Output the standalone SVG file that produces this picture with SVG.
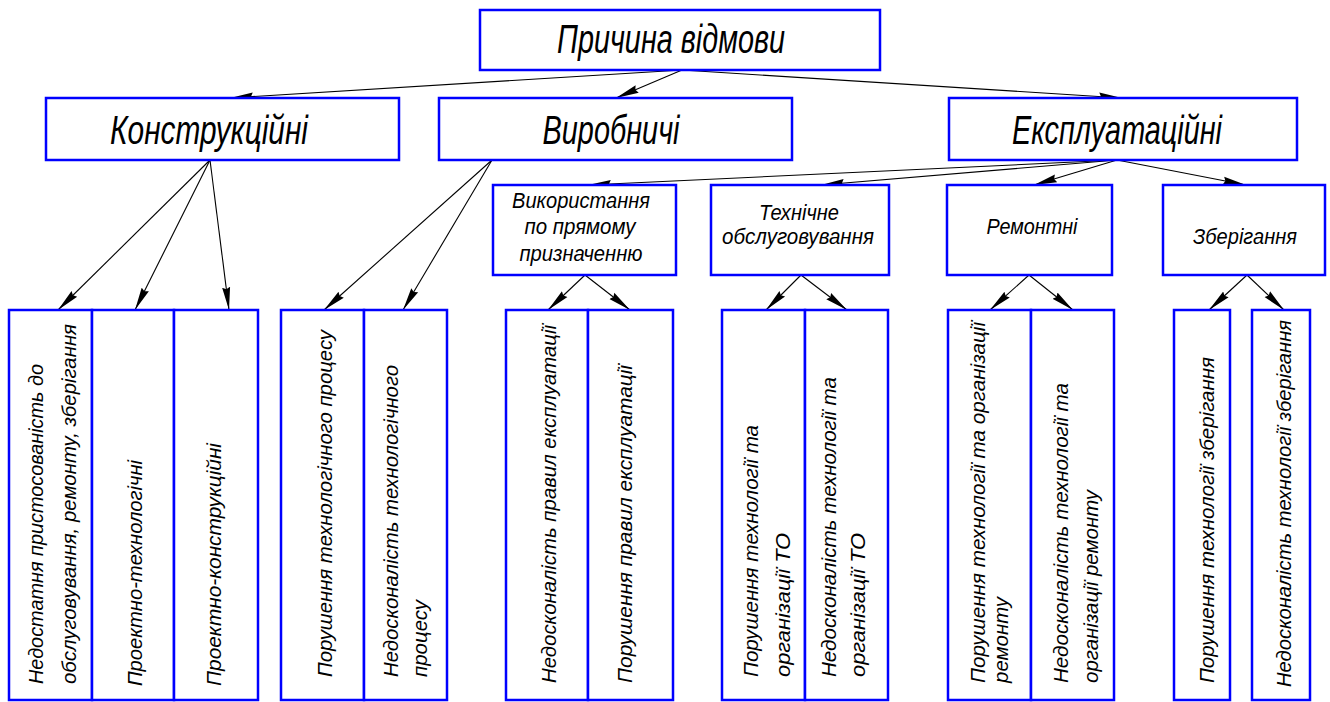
<svg xmlns="http://www.w3.org/2000/svg" width="1330" height="702" viewBox="0 0 1330 702">
<style>
.box{fill:#fff;stroke:#0000ff;stroke-width:2.5}
.t{font-family:"Liberation Sans","DejaVu Sans",sans-serif;font-style:italic;fill:#000}
.h1{font-size:40px;text-anchor:middle}
.h2{font-size:22px;text-anchor:middle}
.v{font-size:21px;text-anchor:start}
.c{stroke:#000;stroke-width:1.1;fill:none;marker-end:url(#ah)}
</style>
<defs>
<marker id="ah" markerUnits="userSpaceOnUse" markerWidth="24" markerHeight="10" refX="23" refY="5" orient="auto">
<path d="M0,1 L23,5 L0,9 L2,5 z" fill="#000"/>
</marker>
</defs>
<rect width="1330" height="702" fill="#fff"/>
<g id="connectors">
<line class="c" x1="682" y1="70" x2="230" y2="98"/>
<line class="c" x1="682" y1="70" x2="616" y2="98"/>
<line class="c" x1="682" y1="70" x2="1122" y2="98"/>
<line class="c" x1="1117" y1="160" x2="588" y2="185"/>
<line class="c" x1="1117" y1="160" x2="821" y2="185"/>
<line class="c" x1="1117" y1="160" x2="1034" y2="185"/>
<line class="c" x1="1117" y1="160" x2="1246" y2="185"/>
<line class="c" x1="210" y1="160" x2="58" y2="310"/>
<line class="c" x1="210" y1="160" x2="135" y2="310"/>
<line class="c" x1="210" y1="160" x2="229" y2="310"/>
<line class="c" x1="492" y1="160" x2="324" y2="310"/>
<line class="c" x1="492" y1="160" x2="403" y2="310"/>
<line class="c" x1="585" y1="275" x2="548" y2="310"/>
<line class="c" x1="585" y1="275" x2="630" y2="310"/>
<line class="c" x1="801" y1="275" x2="766" y2="310"/>
<line class="c" x1="801" y1="275" x2="847" y2="310"/>
<line class="c" x1="1029" y1="275" x2="990" y2="310"/>
<line class="c" x1="1029" y1="275" x2="1073" y2="310"/>
<line class="c" x1="1247" y1="275" x2="1209" y2="310"/>
<line class="c" x1="1247" y1="275" x2="1284" y2="310"/>
</g>
<g id="root"><rect class="box" x="480" y="10" width="400" height="60"/>
<text class="t h1" x="671" y="53" textLength="228" lengthAdjust="spacingAndGlyphs">Причина відмови</text></g>
<g id="konstr"><rect class="box" x="46" y="98" width="353" height="62"/>
<text class="t h1" x="209" y="144" textLength="198" lengthAdjust="spacingAndGlyphs">Конструкційні</text></g>
<g id="vyrob"><rect class="box" x="439" y="98" width="353" height="62"/>
<text class="t h1" x="611" y="144" textLength="137" lengthAdjust="spacingAndGlyphs">Виробничі</text></g>
<g id="ekspl"><rect class="box" x="949" y="98" width="348" height="62"/>
<text class="t h1" x="1117" y="144" textLength="210" lengthAdjust="spacingAndGlyphs">Експлуатаційні</text></g>
<g id="vykor"><rect class="box" x="493" y="185" width="183" height="90"/>
<text class="t h2" x="581" y="208" textLength="138" lengthAdjust="spacingAndGlyphs">Використання</text>
<text class="t h2" x="580" y="234" textLength="111" lengthAdjust="spacingAndGlyphs">по прямому</text>
<text class="t h2" x="581" y="261" textLength="123" lengthAdjust="spacingAndGlyphs">призначенню</text></g>
<g id="tekhn"><rect class="box" x="711" y="185" width="178" height="90"/>
<text class="t h2" x="799" y="220" textLength="80" lengthAdjust="spacingAndGlyphs">Технічне</text>
<text class="t h2" x="798" y="244" textLength="152" lengthAdjust="spacingAndGlyphs">обслуговування</text></g>
<g id="remont"><rect class="box" x="947" y="185" width="165" height="90"/>
<text class="t h2" x="1032" y="234" textLength="91" lengthAdjust="spacingAndGlyphs">Ремонтні</text></g>
<g id="zberig"><rect class="box" x="1163" y="185" width="162" height="90"/>
<text class="t h2" x="1245" y="244" textLength="104" lengthAdjust="spacingAndGlyphs">Зберігання</text></g>

<g id="a1"><rect class="box" x="9" y="310" width="83" height="390"/>
<text class="t v" transform="translate(43,684) rotate(-90)" textLength="320" lengthAdjust="spacingAndGlyphs">Недостатня пристосованість до</text>
<text class="t v" transform="translate(76,684) rotate(-90)" textLength="360" lengthAdjust="spacingAndGlyphs">обслуговування, ремонту, зберігання</text></g>
<g id="a2"><rect class="box" x="92" y="310" width="82" height="390"/>
<text class="t v" transform="translate(142,686) rotate(-90)" textLength="226" lengthAdjust="spacingAndGlyphs">Проектно-технологічні</text></g>
<g id="a3"><rect class="box" x="174" y="310" width="84" height="390"/>
<text class="t v" transform="translate(221,686) rotate(-90)" textLength="243" lengthAdjust="spacingAndGlyphs">Проектно-конструкційні</text></g>
<g id="b1"><rect class="box" x="281" y="310" width="83" height="390"/>
<text class="t v" transform="translate(332,677) rotate(-90)" textLength="347" lengthAdjust="spacingAndGlyphs">Порушення технологічного процесу</text></g>
<g id="b2"><rect class="box" x="364" y="310" width="83" height="390"/>
<text class="t v" transform="translate(398,677) rotate(-90)" textLength="312" lengthAdjust="spacingAndGlyphs">Недосконалість технологічного</text>
<text class="t v" transform="translate(427,677) rotate(-90)" textLength="77" lengthAdjust="spacingAndGlyphs">процесу</text></g>
<g id="c1"><rect class="box" x="506" y="310" width="82" height="390"/>
<text class="t v" transform="translate(556,683) rotate(-90)" textLength="358" lengthAdjust="spacingAndGlyphs">Недосконалість правил експлуатації</text></g>
<g id="c2"><rect class="box" x="588" y="310" width="85" height="390"/>
<text class="t v" transform="translate(632,683) rotate(-90)" textLength="318" lengthAdjust="spacingAndGlyphs">Порушення правил експлуатації</text></g>
<g id="d1"><rect class="box" x="722" y="310" width="83" height="390"/>
<text class="t v" transform="translate(758,677) rotate(-90)" textLength="252" lengthAdjust="spacingAndGlyphs">Порушення технології та</text>
<text class="t v" transform="translate(790,677) rotate(-90)" textLength="144" lengthAdjust="spacingAndGlyphs">організації ТО</text></g>
<g id="d2"><rect class="box" x="805" y="310" width="83" height="390"/>
<text class="t v" transform="translate(836,677) rotate(-90)" textLength="300" lengthAdjust="spacingAndGlyphs">Недосконалість технології та</text>
<text class="t v" transform="translate(865,677) rotate(-90)" textLength="144" lengthAdjust="spacingAndGlyphs">організації ТО</text></g>
<g id="e1"><rect class="box" x="948" y="310" width="83" height="390"/>
<text class="t v" transform="translate(985,683) rotate(-90)" textLength="361" lengthAdjust="spacingAndGlyphs">Порушення технології та організації</text>
<text class="t v" transform="translate(1008,683) rotate(-90)" textLength="86" lengthAdjust="spacingAndGlyphs">ремонту</text></g>
<g id="e2"><rect class="box" x="1031" y="310" width="83" height="390"/>
<text class="t v" transform="translate(1068,683) rotate(-90)" textLength="300" lengthAdjust="spacingAndGlyphs">Недосконалість технології та</text>
<text class="t v" transform="translate(1098,683) rotate(-90)" textLength="193" lengthAdjust="spacingAndGlyphs">організації ремонту</text></g>
<g id="f1"><rect class="box" x="1174" y="310" width="56" height="390"/>
<text class="t v" transform="translate(1214,683) rotate(-90)" textLength="326" lengthAdjust="spacingAndGlyphs">Порушення технології зберігання</text></g>
<g id="f2"><rect class="box" x="1252" y="310" width="58" height="390"/>
<text class="t v" transform="translate(1291,687) rotate(-90)" textLength="367" lengthAdjust="spacingAndGlyphs">Недосконалість технології зберігання</text></g>
</svg>
